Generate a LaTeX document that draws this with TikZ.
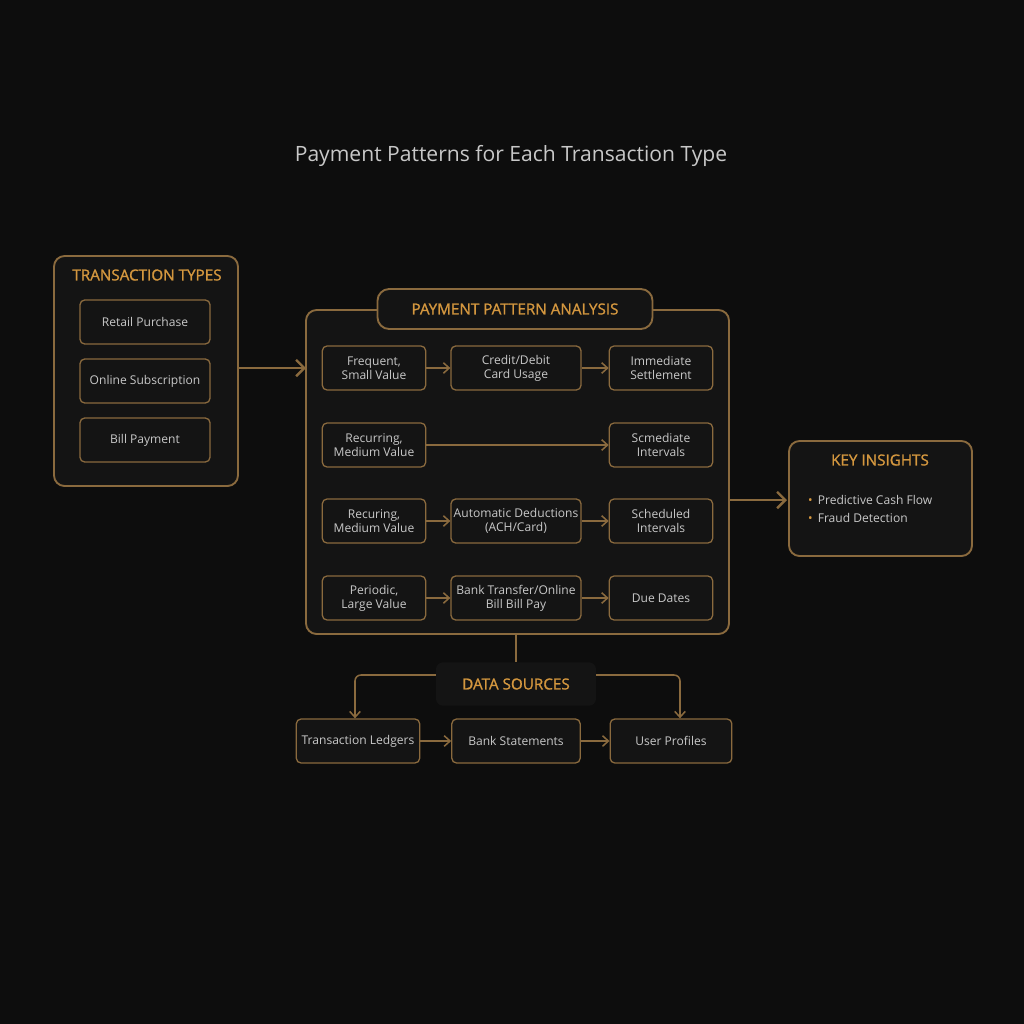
\documentclass[tikz,border=0pt]{standalone}
\usepackage{fontspec}
\setmainfont{Open Sans}
\usetikzlibrary{arrows.meta, positioning}
\definecolor{bgcol}{HTML}{0D0D0D}
\definecolor{boxfill}{HTML}{141414}
\definecolor{edgecol}{HTML}{8A6A3E}
\definecolor{headcol}{HTML}{D4973F}
\definecolor{txtcol}{HTML}{C8C8C8}
\begin{document}
\begin{tikzpicture} [
    x=0.03cm, y=-0.03cm,
    every node/.style = {text=txtcol, font=\fontsize{10.3}{12}\selectfont, align=center},
    cell/.style = {draw=edgecol, line width=1.1pt, fill=boxfill, rounded corners=4pt,
        minimum height=1.32cm, inner sep=1pt},
    group/.style = {draw=edgecol, line width=1.6pt, fill=boxfill, rounded corners=9pt},
    head/.style = {text=headcol, font=\fontsize{13}{15}\selectfont\addfontfeatures{FakeBold=1.2}},
    link/.style = {draw=edgecol, line width=1.3pt, -{Straight Barb[length=5pt,width=9pt]}},
    biglink/.style = {draw=edgecol, line width=2pt, -{Straight Barb[length=7pt,width=14pt]}}]
    \fill[bgcol] (0,0) rectangle (1024,1024);
    \node (title) at (511,156) {\fontsize{18}{20}\selectfont Payment Patterns for Each Transaction Type};

    % left group
    \draw[group] (54,256) rectangle (238,486);
    \node (types) [head] at (147,275) {TRANSACTION TYPES};
    \node (retail) [cell, minimum width=3.9cm] at (145,322) {Retail Purchase};
    \node (online) [cell, minimum width=3.9cm] at (145,381) {Online Subscription};
    \node (bill) [cell, minimum width=3.9cm] at (145,440) {Bill Payment};

    % main group
    \draw[group] (306,310) rectangle (729,634);
    \node (analysis) [head, draw=edgecol, line width=1.6pt, fill=boxfill, rounded corners=10pt,
        minimum width=8.25cm, minimum height=1.2cm] at (515,309) {PAYMENT PATTERN ANALYSIS};
    \coordinate (typesR) at (238,368);
    \coordinate (inL) at (306,368);
    \coordinate (outR) at (729,500);

    \node (a1) [cell, minimum width=3.1cm] at (374,368) {Frequent,\\Small Value};
    \node (a2) [cell, minimum width=3.9cm] at (516,368) {Credit/Debit\\Card Usage};
    \node (a3) [cell, minimum width=3.1cm] at (661,368) {Immediate\\Settlement};
    \node (b1) [cell, minimum width=3.1cm] at (374,445) {Recurring,\\Medium Value};
    \node (b3) [cell, minimum width=3.1cm] at (661,445) {Scmediate\\Intervals};
    \node (c1) [cell, minimum width=3.1cm] at (374,521) {Recuring,\\Medium Value};
    \node (c2) [cell, minimum width=3.9cm] at (516,521) {Automatic Deductions\\(ACH/Card)};
    \node (c3) [cell, minimum width=3.1cm] at (661,521) {Scheduled\\Intervals};
    \node (d1) [cell, minimum width=3.1cm] at (374,598) {Periodic,\\Large Value};
    \node (d2) [cell, minimum width=3.9cm] at (516,598) {Bank Transfer/Online\\Bill Bill Pay};
    \node (d3) [cell, minimum width=3.1cm] at (661,598) {Due Dates};

    % insights
    \draw[group] (789,441) rectangle (972,556);
    \node (insights) [head] at (880,460) {KEY INSIGHTS};
    \node (bullets) [align=left, anchor=west] at (804,509)
        {\textcolor{headcol}{\textbullet}\, Predictive Cash Flow\\[3pt]\textcolor{headcol}{\textbullet}\, Fraud Detection};
    \coordinate (insL) at (787,500);

    % data sources
    \coordinate (hub) at (516,634);
    \node (sources) [head, fill=boxfill, rounded corners=6pt, minimum width=4.8cm,
        minimum height=1.3cm] at (516,684) {DATA SOURCES};
    \node (ledger) [cell, minimum width=3.7cm] at (358,741) {Transaction Ledgers};
    \node (bank) [cell, minimum width=3.85cm] at (516,741) {Bank Statements};
    \node (profile) [cell, minimum width=3.65cm] at (671,741) {User Profiles};

    \draw[biglink] (typesR) -- (inL);
    \draw[biglink] (outR) -- (insL);
    \path [link]
        (a1) edge (a2) (a2) edge (a3)
        (b1) edge (b3)
        (c1) edge (c2) (c2) edge (c3)
        (d1) edge (d2) (d2) edge (d3)
        (ledger) edge (bank) (bank) edge (profile);
    \draw[edgecol, line width=1.5pt] (hub) -- (sources.north);
    \draw[link, rounded corners=5pt] (sources.west |- 0,675) -- (355,675) -- (ledger.north -| 355,0);
    \draw[link, rounded corners=5pt] (sources.east |- 0,675) -- (680,675) -- (profile.north -| 680,0);
\end{tikzpicture}
\end{document}
